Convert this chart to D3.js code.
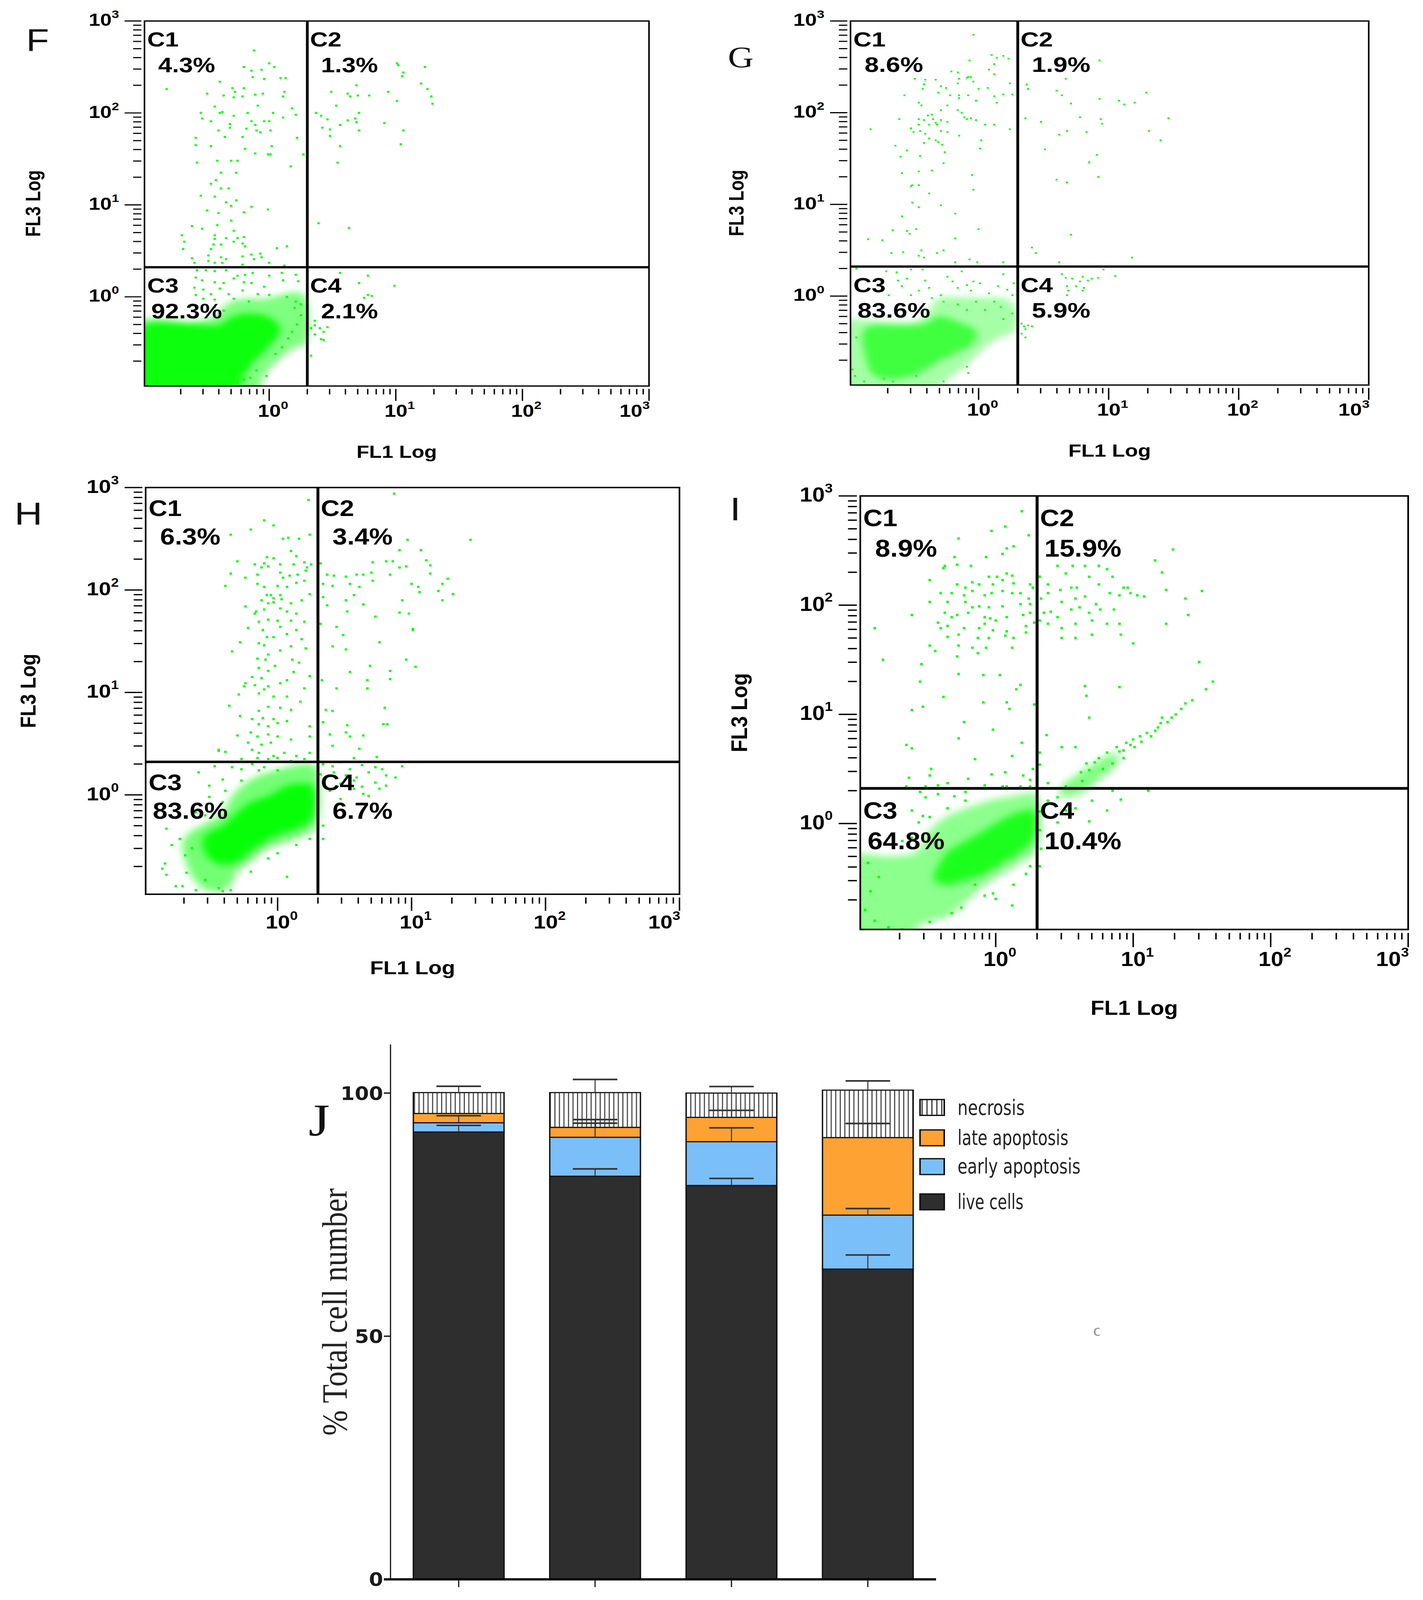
<!DOCTYPE html>
<html><head><meta charset="utf-8">
<script src="https://cdn.jsdelivr.net/npm/d3@7"></script>
<style>html,body{margin:0;padding:0;background:#fff;overflow:hidden}svg{display:block}</style>
</head><body>
<svg id="chart" xmlns="http://www.w3.org/2000/svg"></svg>
<script>
// ================= DATA =================
// flow cytometry panels: event positions given as log10(FL1), log10(FL3)
const panelNames = ["F", "G", "H", "I"];
const quadrantNames = ["C1", "C2", "C3", "C4"];
const pctF = ["4.3%", "1.3%", "92.3%", "2.1%"];
const pctG = ["8.6%", "1.9%", "83.6%", "5.9%"];
const pctH = ["6.3%", "3.4%", "83.6%", "6.7%"];
const pctI = ["8.9%", "15.9%", "64.8%", "10.4%"];
const fl1Domain = [Math.pow(10, -0.985), 1000];
const fl3Domain = [Math.pow(10, -0.97), 1000];
const gateFL1 = 2.0;
const gateFL3 = 2.1;
const fl1Title = "FL1 Log";
const fl3Title = "FL3 Log";

const eventsF = [
[-0.12,2.68],[-0.20,2.50],[-0.14,2.46],[-0.06,2.47],[0.00,2.54],[0.04,2.50],[-0.04,2.37],[-0.13,2.39],[0.09,2.38],[0.13,2.38],[-0.39,2.34],[-0.81,2.26],[-0.29,2.27],[-0.27,2.23],[-0.20,2.27],[-0.49,2.21],[-0.36,2.19],[-0.28,2.17],[-0.21,2.18],[-0.11,2.20],[-0.05,2.21],[0.12,2.23],[0.11,2.18],[-0.43,2.07],[-0.09,2.08],[0.18,2.05],[-0.54,2.00],[-0.39,2.00],[-0.37,2.01],[-0.28,1.97],[-0.17,2.00],[0.03,2.00],[0.11,1.95],[0.21,1.98],[-0.53,1.94],[-0.46,1.91],[-0.31,1.88],[-0.31,1.84],[-0.14,1.91],[-0.11,1.87],[-0.04,1.91],[0.00,1.91],[-0.10,1.81],[-0.18,1.83],[-0.07,1.79],[0.01,1.81],[-0.40,1.81],[-0.58,1.73],[-0.35,1.74],[-0.21,1.74],[0.22,1.73],[-0.58,1.65],[-0.46,1.64],[-0.19,1.61],[0.02,1.64],[-0.11,1.56],[-0.01,1.55],[0.01,1.55],[-0.30,1.48],[-0.41,1.48],[-0.57,1.46],[-0.25,1.48],[0.17,1.42],[0.27,1.55],[-0.38,1.35],[-0.26,1.35],[-0.42,1.27],[-0.46,1.23],[-0.38,1.18],[-0.32,1.18],[-0.54,1.10],[-0.43,1.09],[-0.34,1.03],[-0.26,1.05],[-0.30,0.99],[-0.20,0.92],[-0.01,0.95],[-0.14,0.98],[-0.49,0.94],[-0.40,0.91],[-0.30,0.83],[-0.61,0.77],[-0.41,0.78],[-0.53,0.74],[-0.28,0.72],[-0.69,0.67],[-0.43,0.67],[-0.43,0.63],[-0.34,0.64],[-0.25,0.64],[-0.20,0.65],[-0.67,0.60],[-0.44,0.57],[-0.38,0.57],[-0.28,0.60],[-0.21,0.58],[-0.68,0.52],[-0.46,0.52],[-0.19,0.55],[0.06,0.53],[0.14,0.55],[-0.61,0.42],[-0.48,0.45],[-0.38,0.43],[-0.34,0.41],[-0.21,0.44],[-0.14,0.46],[-0.07,0.47],[-0.06,0.43],[-0.12,0.41],[-0.59,0.37],[-0.48,0.39],[-0.43,0.37],[-0.37,0.37],[-0.21,0.35],[0.00,0.37],[0.12,0.34],
[1.01,2.54],[1.02,2.52],[1.23,2.50],[1.06,2.44],[1.05,2.40],[1.20,2.32],[1.25,2.26],[1.28,2.18],[1.29,2.10],[0.69,2.30],[0.49,2.23],[0.62,2.21],[0.64,2.18],[0.70,2.19],[0.79,2.19],[0.94,2.23],[0.53,2.08],[0.37,2.00],[0.41,1.97],[0.46,1.93],[0.56,1.87],[0.71,2.00],[0.68,1.94],[0.69,1.90],[0.62,1.92],[0.42,1.84],[0.48,1.82],[0.71,1.81],[0.91,1.89],[1.01,2.13],[1.06,1.81],[0.48,1.75],[0.56,1.64],[1.04,1.66],[0.54,1.46],[0.39,0.80],[0.63,0.75],
[0.56,0.26],[0.78,0.23],[0.71,0.15],[0.99,0.12],[0.78,0.02],[0.81,0.01],[0.75,-0.01],[0.36,-0.31],[0.40,-0.34],[0.46,-0.33],[0.43,-0.38],[0.36,-0.41],[0.41,-0.46],[0.43,-0.47],[0.33,-0.64],[0.33,-0.34],[0.36,-0.26],
[-0.57,0.29],[-0.50,0.29],[-0.43,0.28],[-0.34,0.29],[-0.25,0.23],[-0.19,0.24],[-0.13,0.26],[0.00,0.23],[0.10,0.26],[0.21,0.24],[-0.58,0.21],[-0.53,0.18],[-0.43,0.16],[-0.36,0.15],[-0.28,0.20],[-0.20,0.16],[-0.14,0.15],[-0.04,0.11],[0.11,0.18],[0.23,0.17],[-0.59,0.10],[-0.52,0.08],[-0.46,0.03],[-0.39,0.09],[-0.32,0.03],[-0.21,0.07],[-0.09,0.03],[0.00,0.02],[0.14,0.00],[-0.58,0.02],[-0.52,-0.02],[-0.43,-0.03],[-0.28,-0.02],[-0.16,-0.05],[0.21,-0.05],[0.25,-0.08],[-0.43,-0.11],[-0.36,-0.15],
[-0.02,-0.86],[-0.10,-0.80],[-0.15,-0.88],[0.05,-0.62],[0.10,-0.55],[0.15,-0.45],[0.18,-0.38],[-0.25,-0.93],[-0.20,-0.90],[0.22,-0.30],[0.25,-0.20],[0.20,-0.12]
];
const coreF = [[-1.1,-0.28],[-0.60,-0.27],[-0.43,-0.21],[-0.34,-0.08],[-0.21,-0.02],[-0.04,-0.02],[0.11,0.03],[0.24,0.05],[0.29,-0.02],[0.29,-0.50],[0.18,-0.57],[0.04,-0.73],[-0.04,-0.86],[-0.11,-1.1],[-1.1,-1.1]];
const denseF = [[-1.0,-0.32],[-0.39,-0.30],[-0.30,-0.22],[-0.16,-0.18],[0.00,-0.22],[0.09,-0.34],[0.00,-0.54],[-0.12,-0.70],[-0.20,-0.85],[-0.25,-1.0],[-1.0,-1.0]];

const eventsG = [
[-0.04,2.85],[0.10,2.63],[0.14,2.60],[0.19,2.62],[0.23,2.59],[-0.07,2.57],[0.12,2.53],[0.08,2.47],[0.12,2.42],[-0.21,2.45],[-0.16,2.44],[-0.08,2.39],[-0.41,2.36],[-0.49,2.37],[-0.33,2.36],[-0.15,2.37],[-0.09,2.38],[-0.06,2.39],[-0.42,2.31],[-0.29,2.29],[-0.25,2.27],[-0.16,2.32],[-0.04,2.34],[0.00,2.26],[0.07,2.27],[0.24,2.32],[-0.43,2.26],[-0.31,2.22],[-0.22,2.19],[-0.15,2.19],[-0.08,2.19],[0.12,2.18],[0.14,2.11],[0.19,2.20],[0.26,2.20],[-0.57,2.19],[-0.15,2.16],[-0.46,2.11],[-0.44,2.08],[-0.24,2.08],[-0.02,2.13],[-0.29,2.03],[-0.16,2.03],[-0.13,2.00],[-0.39,1.97],[-0.36,1.98],[-0.11,1.95],[-0.09,1.93],[-0.06,1.94],[-0.02,1.92],[-0.61,1.93],[-0.46,1.93],[-0.42,1.92],[-0.35,1.93],[-0.33,1.89],[-0.29,1.92],[-0.24,1.90],[-0.46,1.87],[-0.38,1.87],[-0.32,1.87],[0.05,1.87],[0.12,1.87],[-0.52,1.83],[-0.29,1.80],[-0.24,1.79],[-0.50,1.79],[-0.41,1.77],[-0.45,1.80],[0.24,1.82],[-0.83,1.82],[-0.15,1.75],[-0.38,1.72],[-0.33,1.70],[-0.31,1.68],[-0.28,1.65],[0.02,1.70],[-0.64,1.64],[-0.42,1.67],[0.01,1.61],[-0.55,1.59],[-0.60,1.52],[-0.45,1.53],[-0.26,1.57],[-0.27,1.45],[-0.59,1.34],[-0.46,1.36],[-0.36,1.37],[-0.05,1.32],[-0.51,1.21],[-0.46,1.21],[-0.52,1.20],[-0.38,1.12],[-0.04,1.16],[-0.51,1.02],[-0.46,0.97],[-0.29,0.99],[-0.59,0.87],[-0.18,0.90],[-0.66,0.72],[-0.55,0.71],[-0.53,0.68],[-0.48,0.73],[0.00,0.73],[-0.85,0.62],[-0.74,0.61],[-0.18,0.63],[-0.67,0.47],[-0.58,0.48],[-0.44,0.50],[-0.32,0.47],[-0.27,0.50],[-0.46,0.44],[-0.42,0.42],[-0.18,0.37],[-0.07,0.40],[-0.01,0.37],[0.19,0.37],
[0.37,2.31],[0.38,2.26],[0.60,2.24],[0.64,2.19],[0.67,2.37],[0.71,2.10],[0.93,2.15],[0.93,2.57],[1.08,2.13],[1.12,2.09],[1.20,2.11],[1.29,2.22],[1.46,1.94],[0.36,1.94],[0.48,1.90],[0.78,1.95],[0.94,1.93],[0.95,1.88],[0.62,1.76],[0.68,1.80],[0.83,1.79],[1.31,1.80],[1.40,1.70],[0.51,1.60],[0.91,1.54],[0.85,1.46],[0.60,1.27],[0.68,1.24],[0.92,1.30],[0.71,0.67],[0.41,0.53],[0.44,0.47],[0.62,0.37],[1.18,0.42],
[0.64,0.24],[0.67,0.20],[0.72,0.19],[0.80,0.21],[0.84,0.17],[0.87,0.19],[0.92,0.20],[0.96,0.29],[1.05,0.22],[0.78,0.16],[0.68,0.11],[0.75,0.11],[0.81,0.09],[0.69,0.06],[0.80,0.06],[0.68,0.01],[0.33,-0.30],[0.35,-0.33],[0.38,-0.32],[0.41,-0.33],[0.36,-0.36],[0.33,-0.41],[0.36,-0.45],
[-0.94,0.30],[-0.71,0.27],[-0.63,0.26],[-0.52,0.29],[-0.43,0.29],[-0.24,0.21],[-0.13,0.27],[0.19,0.24],[-0.62,0.17],[-0.55,0.19],[-0.41,0.17],[-0.20,0.16],[-0.09,0.12],[-0.04,0.16],[0.01,0.14],[0.15,0.11],[0.27,0.14],[-0.69,0.01],[-0.59,0.11],[-0.52,0.01],[-0.46,0.06],[-0.38,0.09],[-0.29,0.01],[-0.16,0.09],[-0.06,0.06],[0.08,0.03],[0.22,0.07],[0.26,0.01],[-0.36,-0.02],[-0.27,-0.06],[-0.16,-0.09],[-0.02,-0.06],[0.12,-0.06],[0.17,-0.12],[0.26,-0.19],[-0.09,-0.15],[0.05,-0.15],[0.19,-0.25],[-0.94,-0.45],[-0.97,-0.80],[-0.95,-0.87],[-0.88,-0.93],[-0.73,-0.90],[-0.66,-0.93],[-0.48,-0.87],[-0.27,-0.93],[-0.08,-0.84],[-0.09,-0.77]
];
const coreG = [[-1.1,-0.30],[-0.66,-0.28],[-0.48,-0.27],[-0.38,-0.15],[-0.31,-0.02],[-0.16,-0.01],[0.05,-0.02],[0.19,-0.02],[0.27,-0.09],[0.27,-0.38],[0.12,-0.48],[0.01,-0.61],[-0.09,-0.74],[-0.20,-0.87],[-0.48,-1.1],[-1.1,-1.1]];
const denseG = [[-0.87,-0.35],[-0.55,-0.32],[-0.41,-0.30],[-0.31,-0.22],[-0.16,-0.28],[-0.02,-0.38],[-0.04,-0.51],[-0.16,-0.61],[-0.31,-0.71],[-0.41,-0.80],[-0.52,-0.87],[-0.66,-0.90],[-0.80,-0.87],[-0.87,-0.66]];

const eventsH = [
[-0.10,2.68],[-0.03,2.63],[-0.20,2.59],[0.23,2.88],[-0.35,2.54],[0.04,2.50],[0.08,2.51],[0.16,2.50],[0.24,2.54],[0.10,2.38],[0.14,2.33],[-0.30,2.28],[-0.08,2.32],[-0.03,2.31],[-0.17,2.25],[-0.10,2.26],[-0.12,2.22],[-0.07,2.23],[0.02,2.25],[0.12,2.25],[0.20,2.27],[0.22,2.22],[0.25,2.25],[-0.35,2.16],[-0.15,2.15],[0.02,2.17],[0.04,2.12],[0.09,2.14],[0.15,2.15],[0.21,2.19],[-0.24,2.12],[-0.39,2.04],[-0.15,2.06],[-0.10,2.03],[0.00,2.04],[0.07,2.03],[0.14,2.07],[0.20,2.09],[-0.08,1.95],[-0.05,1.95],[-0.03,1.92],[0.02,1.95],[0.03,1.91],[-0.12,1.90],[-0.07,1.87],[-0.03,1.88],[0.10,1.87],[0.18,1.90],[0.24,1.96],[-0.24,1.84],[-0.16,1.79],[-0.17,1.77],[-0.10,1.81],[0.02,1.82],[0.07,1.79],[0.14,1.77],[-0.14,1.69],[-0.07,1.71],[0.00,1.70],[0.10,1.70],[0.20,1.69],[-0.22,1.63],[-0.11,1.61],[0.02,1.64],[0.14,1.61],[0.07,1.57],[-0.08,1.54],[-0.03,1.54],[0.18,1.52],[-0.28,1.49],[-0.14,1.48],[-0.10,1.46],[-0.34,1.40],[0.02,1.41],[0.10,1.45],[0.21,1.43],[-0.07,1.37],[-0.15,1.33],[-0.09,1.32],[0.11,1.32],[0.16,1.29],[-0.02,1.26],[-0.14,1.24],[-0.07,1.21],[0.12,1.20],[0.24,1.16],[-0.19,1.15],[-0.12,1.14],[0.07,1.12],[-0.24,1.09],[-0.17,1.07],[-0.07,1.06],[0.02,1.09],[0.20,1.04],[-0.25,1.06],[-0.10,1.03],[-0.29,0.98],[-0.14,0.99],[-0.03,0.96],[0.07,0.96],[0.17,0.91],[-0.36,0.87],[-0.07,0.86],[0.02,0.85],[0.10,0.83],[-0.14,0.82],[-0.28,0.77],[-0.19,0.74],[-0.11,0.75],[-0.03,0.74],[0.07,0.72],[-0.14,0.69],[-0.07,0.67],[0.00,0.70],[0.24,0.67],[-0.30,0.58],[-0.20,0.61],[-0.15,0.57],[-0.07,0.59],[0.00,0.57],[-0.22,0.51],[-0.12,0.49],[-0.05,0.51],[0.10,0.54],[0.24,0.57],[-0.44,0.44],[-0.39,0.42],[-0.19,0.44],[-0.14,0.41],[-0.03,0.38],[0.05,0.41],[0.14,0.38],[0.24,0.41],[-0.27,0.35],[-0.15,0.36],[-0.07,0.35],[0.00,0.36],[0.10,0.33],[0.20,0.35],
[0.87,2.94],[0.97,2.49],[1.44,2.49],[0.91,2.39],[1.07,2.39],[0.71,2.27],[0.81,2.28],[0.86,2.28],[0.91,2.22],[0.96,2.23],[1.11,2.29],[1.14,2.24],[0.32,2.26],[0.37,2.15],[0.42,2.14],[0.51,2.13],[0.59,2.15],[0.64,2.15],[0.70,2.17],[0.84,2.15],[1.14,2.16],[1.27,2.11],[0.34,2.06],[0.41,2.04],[0.54,2.06],[0.61,2.03],[0.71,2.09],[1.00,2.06],[1.05,2.03],[1.23,2.06],[1.20,1.99],[1.31,1.96],[1.06,1.98],[0.34,1.93],[0.51,1.90],[0.57,1.95],[0.64,1.86],[0.93,1.90],[1.23,1.90],[0.37,1.85],[0.52,1.79],[0.91,1.78],[0.98,1.77],[0.73,1.74],[1.01,1.62],[1.01,1.61],[0.32,1.67],[0.44,1.64],[0.49,1.56],[0.41,1.45],[0.51,1.42],[0.76,1.49],[0.54,1.20],[0.69,1.26],[0.84,1.21],[0.96,1.32],[1.03,1.25],[0.33,1.12],[0.44,1.04],[0.67,1.12],[0.84,1.13],[0.67,1.04],[0.36,0.83],[0.41,0.82],[0.80,0.85],[0.34,0.71],[0.52,0.68],[0.79,0.69],[0.82,0.69],[0.39,0.59],[0.51,0.61],[0.54,0.57],[0.64,0.58],[0.41,0.48],[0.61,0.45],[0.57,0.36],[0.74,0.37],
[0.34,0.30],[0.41,0.28],[0.47,0.32],[0.54,0.25],[0.63,0.29],[0.73,0.27],[0.78,0.25],[0.93,0.28],[0.32,0.20],[0.42,0.22],[0.51,0.19],[0.59,0.17],[0.68,0.22],[0.81,0.19],[0.88,0.17],[0.35,0.12],[0.47,0.11],[0.57,0.14],[0.63,0.08],[0.73,0.12],[0.81,0.09],[0.39,0.04],[0.57,0.06],[0.64,0.01],[0.76,0.06],[0.47,-0.04],[0.68,-0.01],[0.30,-0.17],[0.34,-0.30],[0.34,-0.43],
[-0.44,0.43],[-0.47,0.28],[-0.59,0.22],[-0.34,0.27],[-0.27,0.25],[-0.19,0.30],[-0.10,0.27],[0.14,0.32],[-0.41,0.15],[-0.27,0.14],[-0.14,0.24],[0.00,0.24],[-0.51,0.09],[-0.39,0.04],[-0.51,-0.02],[-0.41,-0.07],[-0.61,-0.17],[-0.54,-0.20],[-0.83,-0.33],[-0.79,-0.49],[-0.73,-0.43],[-0.84,-0.67],[-0.86,-0.72],[-0.83,-0.78],[-0.76,-0.89],[-0.71,-0.89],[-0.61,-0.93],[-0.44,-0.91],[-0.41,-0.94],[-0.35,-0.93],[-0.20,-0.75],[-0.07,-0.62],[0.07,-0.80],[0.00,-0.57],[0.14,-0.49],[0.24,-0.43],[-0.64,-0.52],[-0.69,-0.59],[-0.68,-0.76],[-0.54,-0.83]
];
const coreH = [[-0.64,-0.35],[-0.54,-0.28],[-0.41,-0.17],[-0.34,-0.01],[-0.20,0.15],[-0.07,0.22],[0.07,0.27],[0.20,0.30],[0.28,0.28],[0.28,-0.33],[0.20,-0.39],[0.07,-0.46],[-0.07,-0.52],[-0.20,-0.65],[-0.30,-0.75],[-0.37,-0.91],[-0.51,-0.94],[-0.61,-0.85],[-0.68,-0.68],[-0.71,-0.46]];
const denseH = [[-0.54,-0.39],[-0.41,-0.30],[-0.30,-0.17],[-0.20,-0.07],[-0.07,-0.01],[0.07,0.09],[0.17,0.11],[0.26,0.09],[0.26,-0.23],[0.14,-0.33],[0.00,-0.39],[-0.10,-0.46],[-0.20,-0.55],[-0.30,-0.65],[-0.41,-0.68],[-0.51,-0.62],[-0.56,-0.49]];

const eventsI = [
[0.19,2.86],[0.07,2.72],[-0.03,2.68],[0.24,2.64],[0.13,2.54],[0.08,2.52],[-0.27,2.61],[-0.30,2.44],[-0.37,2.36],[-0.38,2.34],[-0.28,2.37],[-0.18,2.36],[-0.07,2.44],[0.05,2.47],[0.08,2.29],[0.12,2.27],[0.01,2.26],[-0.05,2.26],[-0.48,2.23],[-0.28,2.19],[-0.22,2.16],[-0.17,2.21],[-0.12,2.19],[-0.02,2.19],[0.05,2.23],[0.13,2.20],[0.25,2.19],[0.27,2.16],[-0.40,2.11],[-0.32,2.11],[-0.23,2.09],[-0.17,2.13],[-0.08,2.09],[-0.03,2.11],[0.05,2.13],[0.12,2.11],[0.18,2.11],[0.24,2.06],[-0.48,2.03],[-0.35,2.03],[-0.22,2.03],[-0.17,1.98],[-0.12,1.99],[-0.05,1.98],[0.05,1.99],[0.18,2.01],[0.25,2.01],[-0.61,1.91],[-0.37,1.93],[-0.32,1.89],[-0.28,1.91],[-0.20,1.93],[-0.08,1.89],[-0.04,1.88],[0.00,1.86],[0.08,1.89],[0.20,1.91],[0.25,1.93],[-0.88,1.79],[-0.42,1.84],[-0.40,1.79],[-0.35,1.81],[-0.23,1.79],[-0.12,1.79],[-0.08,1.83],[-0.02,1.77],[0.08,1.76],[0.22,1.81],[0.28,1.84],[-0.35,1.71],[-0.27,1.73],[-0.13,1.70],[-0.05,1.70],[0.07,1.72],[0.13,1.70],[0.22,1.75],[-0.48,1.63],[-0.44,1.58],[-0.27,1.63],[-0.17,1.61],[-0.07,1.61],[0.12,1.61],[-0.82,1.50],[-0.28,1.53],[-0.13,1.56],[-0.54,1.46],[-0.27,1.37],[-0.09,1.36],[0.03,1.36],[0.18,1.27],[0.15,1.23],[-0.55,1.30],[-0.38,1.16],[-0.61,1.04],[-0.53,1.07],[-0.23,0.93],[-0.09,1.11],[0.08,1.11],[0.10,1.05],[-0.02,0.86],[0.28,1.09],[-0.65,0.72],[-0.61,0.69],[-0.47,0.50],[-0.27,0.78],[-0.15,0.59],[0.12,0.62],[0.19,0.74],[0.27,0.50],[-0.48,0.44],[-0.35,0.37],[-0.20,0.41],[-0.03,0.45],[0.07,0.47],[0.20,0.44],[0.25,0.40],[-0.63,0.42],[-0.51,0.34],[-0.42,0.35],[-0.08,0.35],[0.08,0.34],[0.18,0.34],
[0.45,2.36],[0.51,2.29],[0.56,2.36],[0.65,2.36],[0.75,2.36],[0.81,2.33],[1.16,2.41],[1.21,2.30],[1.29,2.51],[0.32,2.26],[0.38,2.19],[0.47,2.14],[0.55,2.16],[0.59,2.16],[0.68,2.26],[0.75,2.19],[0.85,2.26],[0.96,2.16],[1.03,2.09],[1.24,2.14],[1.50,2.13],[0.33,2.06],[0.38,2.11],[0.48,2.03],[0.58,2.06],[0.65,2.08],[0.73,2.01],[0.83,2.11],[0.90,2.09],[0.93,2.16],[0.98,2.11],[1.08,2.08],[0.35,1.93],[0.40,1.94],[0.45,1.89],[0.55,1.96],[0.61,1.98],[0.68,1.93],[0.76,1.96],[0.86,1.96],[0.32,1.86],[0.38,1.83],[0.48,1.79],[0.58,1.83],[0.70,1.86],[0.81,1.83],[0.90,1.83],[1.24,1.83],[1.38,2.06],[1.40,1.91],[0.48,1.70],[0.58,1.70],[0.70,1.73],[0.91,1.73],[1.00,1.65],[0.65,1.26],[0.66,1.17],[0.90,1.25],[1.48,1.48],[1.53,1.23],[1.58,1.30],[0.68,0.97],[0.37,0.81],[0.32,0.65],[0.48,0.70],[0.58,0.70],[0.32,0.54],[0.38,0.37],
[1.43,1.13],[1.38,1.10],[1.31,1.00],[1.28,0.97],[1.21,0.97],[1.18,0.88],[1.16,0.85],[1.10,0.83],[1.05,0.80],[1.00,0.77],[0.95,0.74],[0.93,0.67],[0.88,0.70],[0.81,0.65],[0.75,0.60],[0.66,0.55],[0.68,0.49],[0.78,0.50],[0.93,0.60],[0.85,0.55],[1.01,0.70],[1.06,0.75],[1.13,0.80],[1.20,0.92],[1.25,0.93],[1.35,1.05],[0.98,0.72],[0.90,0.66],[0.72,0.56],[0.62,0.47],
[0.91,0.22],[0.45,0.24],[0.38,0.21],[0.32,0.11],[0.51,0.12],[0.58,0.14],[0.70,0.21],[0.45,0.01],[0.81,0.12],[0.68,0.02],[0.32,-0.06],[0.33,-0.23],[0.32,-0.39],[0.85,0.30],[1.11,0.30],[0.51,0.34],[0.63,0.39],
[-0.65,0.34],[-0.55,0.29],[-0.51,0.24],[-0.42,0.27],[-0.30,0.25],[-0.22,0.29],[-0.08,0.32],[0.05,0.34],[0.25,0.34],[-0.61,0.12],[-0.53,0.07],[-0.48,0.06],[-0.35,0.14],[-0.22,0.21],[-0.78,-0.19],[-0.68,-0.16],[-0.61,-0.13],[-0.56,0.01],[-0.93,-0.36],[-0.85,-0.49],[-0.91,-0.62],[-0.95,-0.79],[-0.88,-0.89],[-0.68,-0.97],[-0.32,-0.82],[-0.25,-0.77],[-0.08,-0.66],[-0.02,-0.64],[0.00,-0.69],[0.12,-0.75],[0.22,-0.46],[0.25,-0.39],[0.13,-0.56],[-0.15,-0.56],[-0.78,-0.95],[-0.48,-0.90]
];
const coreI = [[-1.1,-0.31],[-0.75,-0.30],[-0.58,-0.26],[-0.48,-0.06],[-0.35,0.07],[-0.15,0.17],[-0.02,0.22],[0.12,0.25],[0.29,0.27],[0.29,-0.26],[0.18,-0.36],[0.05,-0.46],[-0.08,-0.56],[-0.22,-0.72],[-0.35,-0.85],[-0.55,-0.93],[-0.65,-1.1],[-1.1,-1.1]];
const denseI = [[-0.35,-0.26],[-0.22,-0.16],[-0.08,-0.06],[0.05,0.04],[0.18,0.11],[0.28,0.12],[0.28,-0.13],[0.18,-0.26],[0.05,-0.36],[-0.08,-0.46],[-0.22,-0.52],[-0.35,-0.56],[-0.45,-0.52],[-0.42,-0.39]];
const streakI = [[0.48,0.34],[0.58,0.44],[0.68,0.52],[0.78,0.60],[0.85,0.64],[0.90,0.60],[0.85,0.50],[0.75,0.40],[0.65,0.30],[0.55,0.25],[0.47,0.25]];

// stacked bar chart J (% total cell number)
const barGroups = ["F", "G", "H", "I"];
const seriesNames = ["live cells", "early apoptosis", "late apoptosis", "necrosis"];
const liveCells = [92.0, 82.9, 81.0, 63.8];
const earlyApoptosis = [1.9, 8.0, 9.0, 11.1];
const lateApoptosis = [1.9, 2.05, 5.0, 15.95];
const necrosis = [4.3, 7.15, 5.0, 9.75];
const liveSD = [1.35, 1.5, 1.45, 2.9];
const earlySD = [1.45, 2.9, 2.85, 1.35];
const lateSD = [0, 1.6, 1.45, 2.9];
const necrosisSD = [1.3, 2.7, 1.35, 1.9];
const yTicksJ = [0, 50, 100];
const yTitleJ = "% Total cell number";
const legendOrder = ["necrosis", "late apoptosis", "early apoptosis", "live cells"];

// ================= LAYOUT / STYLE =================
const PAGE_W = 3644, PAGE_H = 4949;
const BASE_W = 1292, BASE_H = 1129;
const panelLayout = [
  {x0: 370,  y0: 65,   w: 1292, h: 1129, dot: 6, outerOp: 0.5,  innerOp: 0.9},
  {x0: 2178, y0: 65,   w: 1327, h: 1126, dot: 5, outerOp: 0.35, innerOp: 0.62},
  {x0: 373,  y0: 1508, w: 1367, h: 1258, dot: 6, outerOp: 0.55, innerOp: 0.95},
  {x0: 2203, y0: 1534, w: 1403, h: 1341, dot: 6, outerOp: 0.45, innerOp: 0.8}
];
const panelLetters = [
  {t: "F", x: 67,   y: 157,  font: "'Liberation Sans', Arial, sans-serif", size: 96},
  {t: "G", x: 1864, y: 208,  font: "'Liberation Serif', 'Times New Roman', serif", size: 91},
  {t: "H", x: 37,   y: 1623, font: "'Liberation Sans', Arial, sans-serif", size: 99},
  {t: "I", x: 1869, y: 1609, font: "'Liberation Sans', Arial, sans-serif", size: 100},
  {t: "J", x: 790,  y: 3512, font: "'Liberation Serif', 'Times New Roman', serif", size: 140}
];
const SANS = "'Liberation Sans', Arial, Helvetica, sans-serif";
const NARROW = "'Liberation Sans Narrow', 'Arial Narrow', 'DejaVu Sans Condensed', 'Liberation Sans', sans-serif";
const SERIF = "'Liberation Serif', 'Times New Roman', serif";
const GREEN = "#00ff00";

const vw = window.innerWidth || PAGE_W, vh = window.innerHeight || PAGE_H;
const svg = d3.select("#chart").attr("width", vw).attr("height", vh)
  .attr("viewBox", `0 0 ${PAGE_W} ${PAGE_H}`).attr("preserveAspectRatio", "none");
svg.append("rect").attr("width", PAGE_W).attr("height", PAGE_H).attr("fill", "#fff");
const defs = svg.append("defs");
defs.append("clipPath").attr("id", "frameClip").attr("clipPathUnits", "userSpaceOnUse")
  .append("rect").attr("x", 0).attr("y", 0).attr("width", BASE_W).attr("height", BASE_H);
const flt = defs.append("filter").attr("id", "soft").attr("x", "-20%").attr("y", "-20%").attr("width", "140%").attr("height", "140%");
flt.append("feGaussianBlur").attr("stdDeviation", 10);

const panelEvents = [eventsF, eventsG, eventsH, eventsI];
const panelCores = [coreF, coreG, coreH, coreI];
const panelDense = [denseF, denseG, denseH, denseI];
const panelPct = [pctF, pctG, pctH, pctI];

function drawPanel(idx) {
  const L = panelLayout[idx];
  const sx = L.w / BASE_W, sy = L.h / BASE_H;
  const g = svg.append("g").attr("transform", `translate(${L.x0},${L.y0}) scale(${sx},${sy})`);
  const x = d3.scaleLog().domain(fl1Domain).range([0, BASE_W]);
  const y = d3.scaleLog().domain(fl3Domain).range([BASE_H, 0]);
  const px = d => x(Math.pow(10, d[0]));
  const py = d => y(Math.pow(10, d[1]));
  const area = d3.line().x(px).y(py).curve(d3.curveCatmullRomClosed.alpha(0.5));

  const plot = g.append("g").attr("clip-path", "url(#frameClip)");
  const dens = plot.append("g").attr("filter", "url(#soft)");
  dens.append("path").attr("d", area(panelCores[idx])).attr("fill", GREEN).attr("opacity", L.outerOp);
  dens.append("path").attr("d", area(panelDense[idx])).attr("fill", GREEN).attr("opacity", L.innerOp);
  if (idx === 3) dens.append("path").attr("d", area(streakI)).attr("fill", GREEN).attr("opacity", 0.5);

  plot.selectAll("rect.ev").data(panelEvents[idx]).join("rect").attr("class", "ev")
    .attr("x", d => px(d) - L.dot / 2).attr("y", d => py(d) - L.dot / 2)
    .attr("width", L.dot).attr("height", L.dot).attr("fill", GREEN);

  const gx = x(gateFL1), gy = y(gateFL3);
  g.append("line").attr("x1", gx).attr("x2", gx).attr("y1", 0).attr("y2", BASE_H).attr("stroke", "#000").attr("stroke-width", 7);
  g.append("line").attr("x1", 0).attr("x2", BASE_W).attr("y1", gy).attr("y2", gy).attr("stroke", "#000").attr("stroke-width", 7);
  g.append("rect").attr("x", 0).attr("y", 0).attr("width", BASE_W).attr("height", BASE_H)
    .attr("fill", "none").attr("stroke", "#000").attr("stroke-width", 4);

  const isMajor = v => Math.abs(Math.log10(v) - Math.round(Math.log10(v))) < 1e-6;
  const xt = x.ticks();
  g.selectAll("line.xt").data(xt).join("line").attr("class", "xt")
    .attr("x1", d => x(d)).attr("x2", d => x(d)).attr("y1", BASE_H + 9)
    .attr("y2", d => BASE_H + (isMajor(d) ? 46 : 26)).attr("stroke", "#000").attr("stroke-width", 3.5);
  const yt = y.ticks();
  g.selectAll("line.yt").data(yt).join("line").attr("class", "yt")
    .attr("y1", d => y(d)).attr("y2", d => y(d)).attr("x1", -8)
    .attr("x2", d => isMajor(d) ? -51 : -29).attr("stroke", "#000").attr("stroke-width", 3.5);

  const majorsX = xt.filter(isMajor), majorsY = yt.filter(isMajor);
  majorsX.forEach((v, k) => {
    const last = k === majorsX.length - 1;
    const t = g.append("text").attr("x", last ? x(v) + 2 : x(v) - 29).attr("y", BASE_H + 95)
      .attr("text-anchor", last ? "end" : "start")
      .attr("font-family", SANS).attr("font-weight", "bold").attr("font-size", 53).attr("fill", "#000");
    t.append("tspan").text("10");
    t.append("tspan").attr("dy", -24).attr("font-size", 34).text(String(Math.round(Math.log10(v))));
  });
  majorsY.forEach(v => {
    const t = g.append("text").attr("x", -65).attr("y", y(v) + 15).attr("text-anchor", "end")
      .attr("font-family", SANS).attr("font-weight", "bold").attr("font-size", 53).attr("fill", "#000");
    t.append("tspan").text("10");
    t.append("tspan").attr("dy", -24).attr("font-size", 34).text(String(Math.round(Math.log10(v))));
  });

  const qpos = [[0, 0], [gx, 0], [0, gy], [gx, gy]];
  quadrantNames.forEach((q, i) => {
    const [qx, qy] = qpos[i];
    g.append("text").attr("x", qx + 7).attr("y", qy + 79).attr("font-family", SANS)
      .attr("font-weight", "bold").attr("font-size", 63).attr("fill", "#000").text(q);
    g.append("text").attr("x", qx + 108).attr("y", qy + 158).attr("text-anchor", "middle")
      .attr("font-family", SANS).attr("font-weight", "bold").attr("font-size", 64).attr("fill", "#000")
      .text(panelPct[idx][i]);
  });

  g.append("text").attr("x", BASE_W / 2).attr("y", BASE_H + 222).attr("text-anchor", "middle")
    .attr("font-family", SANS).attr("font-weight", "bold").attr("font-size", 53).attr("fill", "#000").text(fl1Title);
  g.append("text").attr("transform", `translate(-267,${BASE_H / 2}) rotate(-90)`).attr("text-anchor", "middle")
    .attr("font-family", SANS).attr("font-weight", "bold").attr("font-size", 53).attr("fill", "#000").text(fl3Title);
}
panelNames.forEach((n, i) => drawPanel(i));

panelLetters.forEach(p => {
  svg.append("text").attr("x", p.x).attr("y", p.y).attr("font-family", p.font)
    .attr("font-size", p.size).attr("fill", "#111").text(p.t);
});

// ================= J: stacked bars =================
const J = {left: 1000, right: 2397, bottom: 4885, top: 3230.6};
const yJ = d3.scaleLinear().domain([0, 110]).range([J.bottom, J.top]);
const xJ = d3.scaleBand().domain(barGroups).range([J.left, J.right]).paddingInner(0.335).paddingOuter(0.1675);
const seriesValues = [liveCells, earlyApoptosis, lateApoptosis, necrosis];
const seriesSD = [liveSD, earlySD, lateSD, necrosisSD];
const table = barGroups.map((grp, j) => {
  const row = {group: grp};
  seriesNames.forEach((s, i) => row[s] = seriesValues[i][j]);
  return row;
});
const stacked = d3.stack().keys(seriesNames)(table);
const colors = {"live cells": "#2e2e2e", "early apoptosis": "#7bbff9", "late apoptosis": "#fda233", "necrosis": "url(#hatch)"};

const pat = defs.append("pattern").attr("id", "hatch").attr("patternUnits", "userSpaceOnUse")
  .attr("width", 11.6).attr("height", 40);
pat.append("rect").attr("width", 11.6).attr("height", 40).attr("fill", "#fff");
pat.append("line").attr("x1", 5.8).attr("x2", 5.8).attr("y1", 0).attr("y2", 40).attr("stroke", "#333").attr("stroke-width", 2.6);
const pat2 = defs.append("pattern").attr("id", "hatchLeg").attr("patternUnits", "userSpaceOnUse")
  .attr("x", 2355).attr("width", 12.6).attr("height", 40);
pat2.append("rect").attr("width", 12.6).attr("height", 40).attr("fill", "#fff");
pat2.append("line").attr("x1", 6.3).attr("x2", 6.3).attr("y1", 0).attr("y2", 40).attr("stroke", "#333").attr("stroke-width", 3);

const gJ = svg.append("g");
stacked.forEach(layer => {
  gJ.append("g").selectAll("rect").data(layer).join("rect")
    .attr("x", d => xJ(d.data.group)).attr("width", xJ.bandwidth())
    .attr("y", d => yJ(d[1])).attr("height", d => yJ(d[0]) - yJ(d[1]))
    .attr("fill", colors[layer.key]).attr("stroke", "#111").attr("stroke-width", 3.5);
});
const capHalf = 57;
stacked.forEach((layer, i) => {
  layer.forEach((d, j) => {
    const sd = seriesSD[i][j];
    if (!sd) return;
    const cx = xJ(d.data.group) + xJ.bandwidth() / 2;
    gJ.append("line").attr("x1", cx).attr("x2", cx).attr("y1", yJ(d[1])).attr("y2", yJ(d[1] + sd))
      .attr("stroke", "#333").attr("stroke-width", 2.6);
    gJ.append("line").attr("x1", cx - capHalf).attr("x2", cx + capHalf).attr("y1", yJ(d[1] + sd)).attr("y2", yJ(d[1] + sd))
      .attr("stroke", "#333").attr("stroke-width", 5);
  });
});
gJ.append("line").attr("x1", J.left).attr("x2", J.left).attr("y1", J.top).attr("y2", J.bottom).attr("stroke", "#111").attr("stroke-width", 3);
gJ.append("line").attr("x1", J.left - 17).attr("x2", J.right).attr("y1", J.bottom).attr("y2", J.bottom).attr("stroke", "#000").attr("stroke-width", 7);
gJ.selectAll("line.yj").data(yTicksJ).join("line").attr("class", "yj")
  .attr("x1", J.left - 17).attr("x2", J.left).attr("y1", d => yJ(d)).attr("y2", d => yJ(d)).attr("stroke", "#111").attr("stroke-width", 4);
gJ.selectAll("text.yj").data(yTicksJ).join("text").attr("class", "yj")
  .attr("x", J.left - 19).attr("y", d => yJ(d)).attr("dy", "0.36em").attr("text-anchor", "end")
  .attr("font-family", NARROW).attr("font-weight", "bold").attr("font-size", 58).attr("fill", "#1a1a1a").text(d => d);
gJ.selectAll("line.xj").data(barGroups).join("line").attr("class", "xj")
  .attr("x1", d => xJ(d) + xJ.bandwidth() / 2).attr("x2", d => xJ(d) + xJ.bandwidth() / 2)
  .attr("y1", J.bottom).attr("y2", J.bottom + 24).attr("stroke", "#111").attr("stroke-width", 3);
gJ.append("text").attr("transform", "translate(888,4058) rotate(-90)").attr("text-anchor", "middle")
  .attr("font-family", SERIF).attr("font-size", 90).attr("textLength", 765).attr("lengthAdjust", "spacingAndGlyphs")
  .attr("fill", "#222").text(yTitleJ);

const legRows = [
  {top: 3401, base: 3448, len: 172},
  {top: 3495, base: 3541, len: 284},
  {top: 3584, base: 3630, len: 315},
  {top: 3693, base: 3740, len: 169}
];
legendOrder.forEach((name, i) => {
  const r = legRows[i];
  gJ.append("rect").attr("x", 2356).attr("y", r.top).attr("width", 62).attr("height", 49)
    .attr("fill", name === "necrosis" ? "url(#hatchLeg)" : colors[name]).attr("stroke", "#111").attr("stroke-width", 4);
  gJ.append("text").attr("x", 2452).attr("y", r.base).attr("font-family", NARROW).attr("font-size", 64)
    .attr("textLength", r.len).attr("lengthAdjust", "spacingAndGlyphs").attr("fill", "#222").text(name);
});
defs.append("clipPath").attr("id", "strayClip").append("rect").attr("x", 2790).attr("y", 4080).attr("width", 26).attr("height", 70);
svg.append("text").attr("x", 2799).attr("y", 4132).attr("clip-path", "url(#strayClip)")
  .attr("font-family", SANS).attr("font-size", 48).attr("fill", "#999").text("c");
</script>
</body></html>
